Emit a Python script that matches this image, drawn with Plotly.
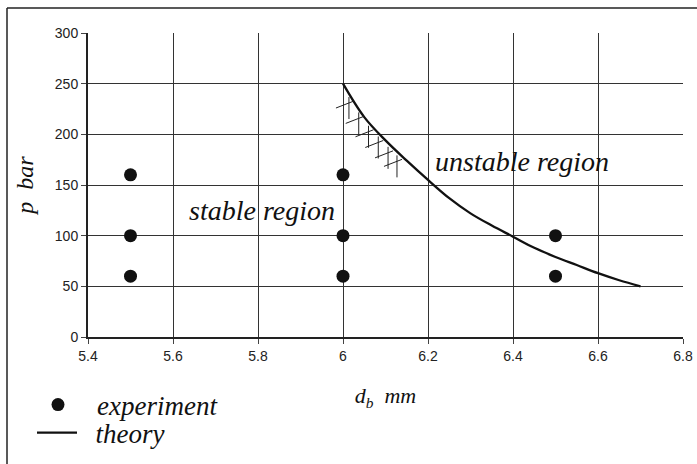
import numpy as np
import plotly.graph_objects as go

# experiment data
exp_d = [5.5, 5.5, 5.5, 6.0, 6.0, 6.0, 6.5, 6.5]
exp_p = [160, 100, 60, 160, 100, 60, 100, 60]

# theory curve
theo_d = [6.0, 6.05, 6.1, 6.15, 6.2, 6.25, 6.3, 6.35, 6.4, 6.45, 6.5, 6.55, 6.6, 6.65, 6.7]
theo_p = [250, 217, 194, 174, 155, 137, 122, 110, 99, 88, 79, 71, 63, 56, 50]

x_ticks = [5.4, 5.6, 5.8, 6.0, 6.2, 6.4, 6.6, 6.8]
x_labels = ["5.4", "5.6", "5.8", "6", "6.2", "6.4", "6.6", "6.8"]
y_ticks = [0, 50, 100, 150, 200, 250, 300]

# hatch anchors along the theory curve (stable side)
hatch_d = [6.014, 6.037, 6.06, 6.083, 6.106, 6.127]

W, H = 697, 464
ML, MR, MT, MB = 88, 14, 33, 127
PW, PH = W - ML - MR, H - MT - MB
px_x = PW / (6.8 - 5.4)   # pixels per mm
px_y = PH / 300.0         # pixels per bar


def paper_x(px):
    return (px - ML) / PW


def paper_y(py):
    return (H - MB - py) / PH


serif = "Liberation Serif, Times New Roman, serif"
sans = "Liberation Sans, Arial, sans-serif"

fig = go.Figure()
fig.add_trace(go.Scatter(
    x=exp_d, y=exp_p, mode="markers", name="experiment", legend="legend",
    marker=dict(color="#111111", size=13),
))
fig.add_trace(go.Scatter(
    x=theo_d, y=theo_p, mode="lines", name="&nbsp;&nbsp;theory", legend="legend2",
    line=dict(color="#111111", width=2.3, shape="spline"),
))

shapes = []
for hd in hatch_d:
    hp = float(np.interp(hd, theo_d, theo_p))
    shapes.append(dict(type="line", xref="x", yref="y",
                       x0=hd, y0=hp - 4 / px_y, x1=hd, y1=hp - 26 / px_y,
                       line=dict(color="#222222", width=1)))
    shapes.append(dict(type="line", xref="x", yref="y",
                       x0=hd - 13 / px_x, y0=hp - 15 / px_y,
                       x1=hd + 5 / px_x, y1=hp - 8 / px_y,
                       line=dict(color="#222222", width=1)))

# outer frame (top and left edges)
shapes.append(dict(type="line", xref="paper", yref="paper",
                   x0=paper_x(7), y0=paper_y(8), x1=paper_x(W + 2), y1=paper_y(8),
                   line=dict(color="#222222", width=1.5)))
shapes.append(dict(type="line", xref="paper", yref="paper",
                   x0=paper_x(7), y0=paper_y(8), x1=paper_x(7), y1=paper_y(H + 2),
                   line=dict(color="#222222", width=1.5)))

annotations = [
    dict(x=5.81, y=125, xref="x", yref="y", text="<i>stable region</i>",
         showarrow=False, font=dict(family=serif, size=28, color="#111111")),
    dict(x=6.42, y=173, xref="x", yref="y", text="<i>unstable region</i>",
         showarrow=False, font=dict(family=serif, size=28, color="#111111")),
]

leg_font = dict(family=serif, size=27, color="#111111", style="italic")
fig.update_layout(
    width=W, height=H,
    margin=dict(l=ML, r=MR, t=MT, b=MB, autoexpand=False),
    paper_bgcolor="white", plot_bgcolor="white",
    shapes=shapes, annotations=annotations,
    showlegend=True,
    legend=dict(x=paper_x(19), y=paper_y(405), xanchor="left", yanchor="middle",
                font=leg_font, bgcolor="rgba(0,0,0,0)", itemwidth=68),
    legend2=dict(x=paper_x(32), y=paper_y(433), xanchor="left", yanchor="middle",
                 font=leg_font, bgcolor="rgba(0,0,0,0)", itemwidth=40),
    xaxis=dict(
        range=[5.4, 6.8], tickmode="array", tickvals=x_ticks, ticktext=x_labels,
        showgrid=True, gridcolor="#333333", gridwidth=1,
        showline=True, linecolor="#222222", linewidth=2, mirror=False,
        ticks="outside", ticklen=5, tickcolor="#444444",
        tickfont=dict(family=sans, size=14, color="#222222"),
        zeroline=False, automargin=False,
        title=dict(text="<i>d<sub>b</sub>&nbsp; mm</i>", standoff=25,
                   font=dict(family=serif, size=22, color="#111111")),
    ),
    yaxis=dict(
        range=[0, 300], tickmode="array", tickvals=y_ticks,
        showgrid=True, gridcolor="#333333", gridwidth=1,
        showline=True, linecolor="#222222", linewidth=2, mirror=False,
        ticks="outside", ticklen=5, tickcolor="#444444",
        tickfont=dict(family=sans, size=14, color="#222222"),
        zeroline=False, automargin=False,
        title=dict(text="<i>p&nbsp; bar</i>", standoff=14,
                   font=dict(family=serif, size=24, color="#111111")),
    ),
)

fig.write_html("out.html",
               config={"displayModeBar": False},
               post_script="document.body.style.margin='0';document.body.style.padding='0';")
